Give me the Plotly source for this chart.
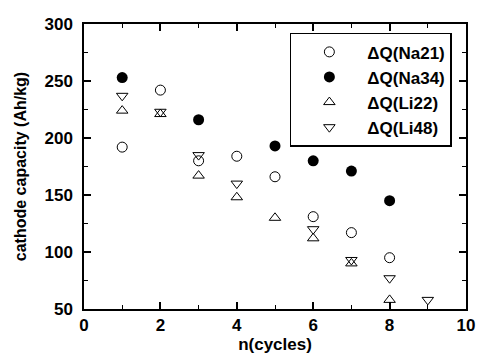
import plotly.graph_objects as go

na21_x = [1, 2, 3, 4, 5, 6, 7, 8]
na21_y = [192, 242, 180, 184, 166, 131, 117, 95]
na34_x = [1, 3, 5, 6, 7, 8]
na34_y = [253, 216, 193, 180, 171, 145]
li22_x = [1, 2, 3, 4, 5, 6, 7, 8]
li22_y = [224, 221, 167, 148, 130, 112, 90, 58]
li48_x = [1, 2, 3, 4, 6, 7, 8, 9]
li48_y = [237, 223, 185, 160, 120, 93, 77, 58]

names = ["ΔQ(Na21)", "ΔQ(Na34)", "ΔQ(Li22)", "ΔQ(Li48)"]
x_ticks = [0, 2, 4, 6, 8, 10]
y_ticks = [50, 100, 150, 200, 250, 300]

fig = go.Figure()
fig.add_trace(go.Scatter(x=na21_x, y=na21_y, mode="markers", name=names[0],
                         marker=dict(symbol="circle-open", size=10, color="black", line=dict(width=1))))
fig.add_trace(go.Scatter(x=na34_x, y=na34_y, mode="markers", name=names[1],
                         marker=dict(symbol="circle", size=11, color="black")))
fig.add_trace(go.Scatter(x=li22_x, y=li22_y, mode="markers", name=names[2],
                         marker=dict(symbol="triangle-up-open", size=10, color="black", line=dict(width=1))))
fig.add_trace(go.Scatter(x=li48_x, y=li48_y, mode="markers", name=names[3],
                         marker=dict(symbol="triangle-down-open", size=10, color="black", line=dict(width=1))))

ff = "Liberation Sans"
fig.update_layout(
    width=478, height=357,
    margin=dict(l=84, r=12, t=24, b=48),
    paper_bgcolor="white", plot_bgcolor="white",
    font=dict(family=ff, color="black"),
    showlegend=True,
    legend=dict(x=0.963, y=0.969, xanchor="right", yanchor="top",
                bordercolor="black", borderwidth=1.5, bgcolor="white",
                font=dict(size=17, family=ff, weight="bold"),
                itemwidth=66, tracegroupgap=0),
    xaxis=dict(range=[0, 10], tickvals=x_ticks, showgrid=False, zeroline=False, automargin=False,
               showline=True, linecolor="black", linewidth=1.5, mirror="allticks",
               ticks="inside", ticklen=7, tickwidth=1.5, tickcolor="black",
               minor=dict(tickvals=[1, 3, 5, 7, 9], ticks="inside", ticklen=4, tickwidth=1, tickcolor="black"),
               tickfont=dict(size=17, family=ff, weight="bold"),
               title=dict(text="n(cycles)", font=dict(size=17, family=ff, weight="bold"), standoff=0)),
    yaxis=dict(range=[50, 300], tickvals=y_ticks, showgrid=False, zeroline=False, automargin=False,
               showline=True, linecolor="black", linewidth=1.5, mirror="allticks",
               ticks="inside", ticklen=7, tickwidth=1.5, tickcolor="black",
               minor=dict(tickvals=[75, 125, 175, 225, 275], ticks="inside", ticklen=4, tickwidth=1, tickcolor="black"),
               tickfont=dict(size=17, family=ff, weight="bold"), ticklabelstandoff=6,
               title=dict(text="cathode capacity (Ah/kg)", font=dict(size=16, family=ff, weight="bold"), standoff=14)),
)

fig.write_html("out.html")
